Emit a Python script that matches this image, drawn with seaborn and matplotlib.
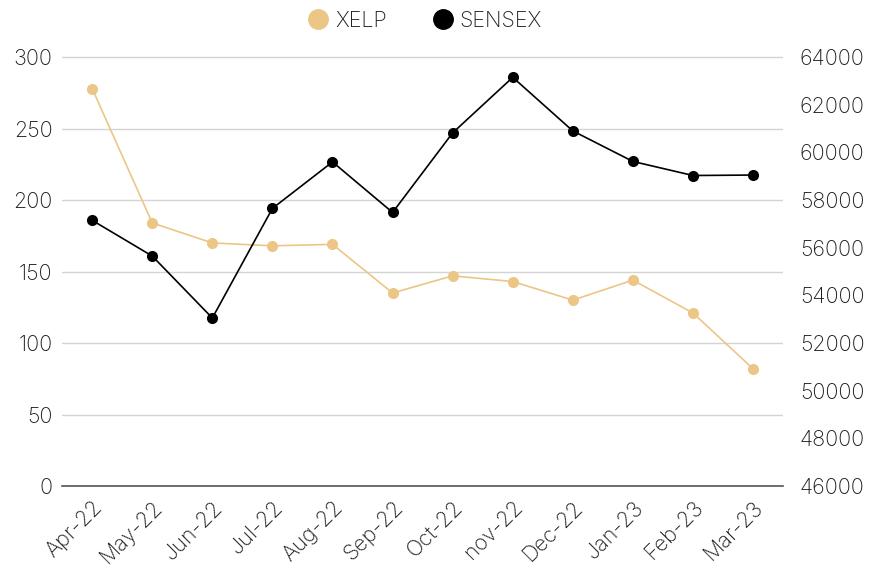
import pandas as pd
import numpy as np
import seaborn as sns
import matplotlib.pyplot as plt
from matplotlib.lines import Line2D

months = ["Apr-22", "May-22", "Jun-22", "Jul-22", "Aug-22", "Sep-22",
          "Oct-22", "nov-22", "Dec-22", "Jan-23", "Feb-23", "Mar-23"]
xelp = [278, 184, 170, 168, 169, 135, 147, 143, 130, 144, 121, 82]
sensex = [57150, 55650, 53050, 57650, 59600, 57480,
          60820, 63150, 60900, 59620, 59030, 59050]

df = pd.DataFrame({"month": months, "XELP": xelp, "SENSEX": sensex})
df["pos"] = np.arange(len(months))

gold = "#EBC687"
txt = "#1e1e1e"

sns.set_style("white")
plt.rcParams["font.family"] = ["Inter", "DejaVu Sans"]
plt.rcParams["font.weight"] = "light"

fig = plt.figure(figsize=(8.75, 5.66), dpi=100)
ax = fig.add_axes([0.071, 0.1413, 0.824, 0.7705])
ax2 = ax.twinx()

sns.lineplot(data=df, x="pos", y="XELP", ax=ax, color=gold, marker="o",
             markersize=8, markeredgewidth=0, linewidth=1.2)
sns.lineplot(data=df, x="pos", y="SENSEX", ax=ax2, color="black", marker="o",
             markersize=8, markeredgewidth=0, linewidth=1.2)

ax.set_ylim(0, 305)
ax2.set_ylim(46000, 64300)
ax.set_yticks(range(0, 301, 50))
ax2.set_yticks(range(46000, 64001, 2000))
ax.set_xlim(-0.5, len(months) - 0.5)
ax.set_xticks(df["pos"])
ax.set_xticklabels(months, rotation=45, ha="right", rotation_mode="anchor")

ax.yaxis.grid(True, color="#d4d4d4", linewidth=1)
ax.set_axisbelow(True)
for a in (ax, ax2):
    a.set_xlabel("")
    a.set_ylabel("")
    for s in ("left", "right", "top", "bottom"):
        a.spines[s].set_visible(False)
    a.tick_params(length=0, labelsize=15.5, colors=txt)
ax.spines["bottom"].set_visible(True)
ax.spines["bottom"].set_color("#555555")
ax.spines["bottom"].set_linewidth(1.2)
ax.tick_params(axis="x", pad=8)
ax.tick_params(axis="y", pad=7)
ax2.tick_params(axis="y", pad=12)

handles = [Line2D([], [], marker="o", linestyle="", color=gold, markersize=14),
           Line2D([], [], marker="o", linestyle="", color="black", markersize=14)]
fig.legend(handles, ["XELP", "SENSEX"], loc="upper center",
           bbox_to_anchor=(0.479, 1.015), ncol=2, frameon=False, fontsize=15.5,
           handletextpad=-0.2, columnspacing=1.6, labelcolor=txt)

fig.savefig("out.png", dpi=100)
